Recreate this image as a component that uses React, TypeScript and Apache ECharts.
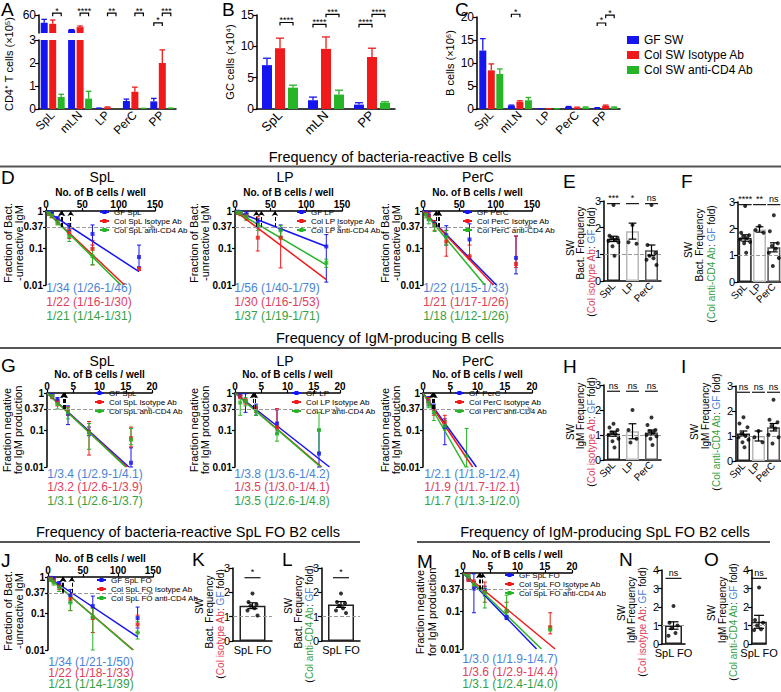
import React, { useEffect, useRef } from "react";
import * as echarts from "echarts";

const FONT = "'Liberation Sans', Arial, Helvetica, sans-serif";
const COLORS = ["#1515f0", "#f01a1a", "#26b526"];
const TEXT_COLORS = ["#4a84d4", "#e0405a", "#35a044"];

// ---------- A / B / C ----------
const catsFive = ["SpL", "mLN", "LP", "PerC", "PP"];
const catsThree = ["SpL", "mLN", "PP"];
const swGroups = ["GF SW", "Col SW Isotype Ab", "Col SW anti-CD4 Ab"];

const aMeanGF = [38.5, 18.3, 0.03, 0.35, 0.33];
const aErrGF = [9.5, 1.2, 0.01, 0.08, 0.13];
const aMeanIso = [35.5, 26.4, 0.07, 0.75, 2.0];
const aErrIso = [10.5, 3.0, 0.02, 0.2, 0.57];
const aMeanCD4 = [0.52, 0.45, 0.01, 0.02, 0.03];
const aErrCD4 = [0.12, 0.32, 0.0, 0.01, 0.01];
const aSig = [[0, 65, 1, 2], [1, 65, 1, 2], [2, 65, 1, 2], [3, 65, 1, 2], [4, 38, 0, 1], [4, 65, 1, 2]];
const aSigText = ["*", "****", "**", "**", "*", "***"];

const bMeanGF = [7.0, 1.4, 0.7];
const bErrGF = [1.1, 0.5, 0.3];
const bMeanIso = [9.7, 9.6, 8.3];
const bErrIso = [1.6, 1.9, 1.4];
const bMeanCD4 = [3.4, 2.3, 1.0];
const bErrCD4 = [0.4, 0.7, 0.15];
const bSig = [[0, 13.8, 1, 2], [1, 13.5, 0, 1], [1, 15.1, 1, 2], [2, 13.5, 0, 1], [2, 15.1, 1, 2]];
const bSigText = ["****", "****", "***", "****", "****"];

const cMeanGF = [12.7, 0.75, 0.05, 0.45, 0.2];
const cErrGF = [2.6, 0.1, 0.02, 0.1, 0.1];
const cMeanIso = [8.4, 1.6, 0.05, 0.3, 0.7];
const cErrIso = [1.4, 0.2, 0.02, 0.1, 0.15];
const cMeanCD4 = [7.6, 1.9, 0.05, 0.35, 0.35];
const cErrCD4 = [1.1, 0.6, 0.02, 0.1, 0.1];
const cSig = [[1, 20.6, 0, 1], [4, 18.7, 0, 1], [4, 20.4, 1, 2]];
const cSigText = ["*", "*", "*"];

// ---------- limiting dilution: [dose, fraction, low, high] ----------
const splNames = ["GF SpL", "Col SpL Isotype Ab", "Col SpL anti-CD4 Ab"];
const lpNames = ["GF LP", "Col LP Isotype Ab", "Col LP anti-CD4 Ab"];
const percNames = ["GF PerC", "Col PerC Isotype Ab", "Col PerC anti-CD4 Ab"];
const foNames = ["GF SpL FO", "Col SpL FO Isotype Ab", "Col SpL FO anti-CD4 Ab"];

const dSplGF = [[4, 0.93, 0.88, 0.98], [8, 0.86, 0.8, 0.92], [16, 0.62, 0.55, 0.7], [32, 0.38, 0.3, 0.46], [64, 0.24, 0.12, 0.42], [128, 0.057, 0.031, 0.12]];
const dSplIso = [[4, 0.84, 0.78, 0.9], [8, 0.74, 0.66, 0.82], [16, 0.52, 0.44, 0.6], [32, 0.25, 0.18, 0.32], [64, 0.094, 0.035, 0.16], [128, 0.027, 0.025, 0.03]];
const dSplCD4 = [[4, 0.86, 0.8, 0.92], [8, 0.75, 0.66, 0.84], [16, 0.5, 0.42, 0.58], [32, 0.21, 0.15, 0.28], [64, 0.06, 0.035, 0.1]];
const dSplFitGF = [[0, 1], [128, 0.023]];
const dSplFitIso = [[0, 1], [108, 0.01]];
const dSplFitCD4 = [[0, 1], [103, 0.01]];
const dSplFreq = [34, 22, 21];
const dSplText = ["1/34 (1/26-1/46)", "1/22 (1/16-1/30)", "1/21 (1/14-1/31)"];

const dLpGF = [[4, 0.96, 0.9, 1], [8, 0.92, 0.85, 1], [16, 0.82, 0.7, 0.95], [32, 0.5, 0.35, 0.62], [64, 0.32, 0.2, 0.42], [128, 0.11, 0.012, 0.23]];
const dLpIso = [[4, 0.9, 0.82, 0.98], [8, 0.85, 0.75, 0.95], [16, 0.72, 0.6, 0.85], [32, 0.19, 0.083, 0.7], [64, 0.19, 0.029, 0.35]];
const dLpCD4 = [[4, 0.92, 0.85, 1], [8, 0.88, 0.75, 1], [16, 0.7, 0.55, 0.85], [32, 0.42, 0.3, 0.55], [64, 0.3, 0.2, 0.4], [128, 0.04, 0.03, 0.05]];
const dLpFitGF = [[0, 1], [128, 0.11]];
const dLpFitIso = [[0, 1], [128, 0.014]];
const dLpFitCD4 = [[0, 1], [128, 0.035]];
const dLpFreq = [56, 30, 37];
const dLpText = ["1/56 (1/40-1/79)", "1/30 (1/16-1/53)", "1/37 (1/19-1/71)"];

const dPercGF = [[4, 0.9, 0.8, 1], [8, 0.75, 0.6, 0.95], [16, 0.45, 0.38, 0.55], [32, 0.22, 0.12, 0.4], [64, 0.17, 0.06, 0.45], [128, 0.054, 0.02, 0.21]];
const dPercIso = [[4, 0.85, 0.75, 0.95], [8, 0.7, 0.55, 0.9], [16, 0.42, 0.3, 0.55], [32, 0.15, 0.06, 0.3], [64, 0.06, 0.05, 0.12], [128, 0.037, 0.03, 0.21]];
const dPercCD4 = [[4, 0.8, 0.65, 0.95], [8, 0.6, 0.45, 0.8], [16, 0.4, 0.28, 0.5], [32, 0.2, 0.12, 0.3]];
const dPercFitGF = [[0, 1], [101, 0.01]];
const dPercFitIso = [[0, 1], [97, 0.01]];
const dPercFitCD4 = [[0, 1], [85, 0.01]];
const dPercFreq = [22, 21, 18];
const dPercText = ["1/22 (1/15-1/33)", "1/21 (1/17-1/26)", "1/18 (1/12-1/26)"];

const gSplGF = [[1, 0.88, 0.8, 0.95], [2, 0.65, 0.55, 0.75], [4, 0.28, 0.14, 0.45], [8, 0.09, 0.07, 0.12], [16, 0.013, 0.01, 0.033]];
const gSplIso = [[1, 0.8, 0.7, 0.9], [2, 0.55, 0.45, 0.65], [4, 0.33, 0.25, 0.42], [8, 0.09, 0.021, 0.17], [16, 0.06, 0.035, 0.12]];
const gSplCD4 = [[1, 0.82, 0.72, 0.92], [2, 0.5, 0.37, 0.6], [4, 0.3, 0.2, 0.4], [8, 0.085, 0.03, 0.15], [16, 0.055, 0.04, 0.11]];
const gSplFitGF = [[0, 1], [15.6, 0.01]];
const gSplFitIso = [[0, 1], [15.2, 0.01]];
const gSplFitCD4 = [[0, 1], [15.0, 0.01]];
const gSplFreq = [3.4, 3.2, 3.1];
const gSplText = ["1/3.4 (1/2.9-1/4.1)", "1/3.2 (1/2.6-1/3.9)", "1/3.1 (1/2.6-1/3.7)"];

const gLpGF = [[1, 0.85, 0.75, 0.95], [2, 0.6, 0.3, 0.95], [4, 0.38, 0.25, 0.5], [8, 0.15, 0.08, 0.35], [16, 0.023, 0.01, 0.1]];
const gLpIso = [[1, 0.8, 0.7, 0.9], [2, 0.6, 0.5, 0.7], [4, 0.38, 0.3, 0.45], [8, 0.12, 0.1, 0.38]];
const gLpCD4 = [[1, 0.55, 0.25, 0.85], [2, 0.6, 0.45, 0.75], [4, 0.33, 0.25, 0.45], [8, 0.08, 0.05, 0.12], [16, 0.1, 0.025, 0.3]];
const gLpFitGF = [[0, 1], [18, 0.01]];
const gLpFitIso = [[0, 1], [16.5, 0.01]];
const gLpFitCD4 = [[0, 1], [16.3, 0.01]];
const gLpFreq = [3.8, 3.5, 3.5];
const gLpText = ["1/3.8 (1/3.6-1/4.2)", "1/3.5 (1/3.0-1/4.1)", "1/3.5 (1/2.6-1/4.8)"];

const gPercGF = [[1, 0.6, 0.45, 0.8], [2, 0.38, 0.28, 0.5], [4, 0.12, 0.04, 0.2]];
const gPercIso = [[1, 0.62, 0.5, 0.75], [2, 0.36, 0.25, 0.45], [4, 0.16, 0.14, 0.25]];
const gPercCD4 = [[1, 0.55, 0.4, 0.7], [2, 0.3, 0.18, 0.45], [4, 0.13, 0.1, 0.18], [8, 0.02, 0.01, 0.11]];
const gPercFitGF = [[0, 1], [9.8, 0.01]];
const gPercFitIso = [[0, 1], [9.1, 0.01]];
const gPercFitCD4 = [[0, 1], [7.8, 0.01]];
const gPercFreq = [2.1, 1.9, 1.7];
const gPercText = ["1/2.1 (1/1.8-1/2.4)", "1/1.9 (1/1.7-1/2.1)", "1/1.7 (1/1.3-1/2.0)"];

const jGF = [[4, 0.95, 0.9, 1], [8, 0.9, 0.8, 1], [16, 0.65, 0.55, 0.75], [32, 0.32, 0.2, 0.45], [64, 0.16, 0.08, 0.3], [128, 0.075, 0.04, 0.15]];
const jIso = [[4, 0.9, 0.82, 0.98], [8, 0.8, 0.7, 0.9], [16, 0.55, 0.45, 0.65], [32, 0.25, 0.12, 0.35], [64, 0.075, 0.03, 0.14], [128, 0.05, 0.03, 0.09]];
const jCD4 = [[4, 0.85, 0.75, 0.95], [8, 0.72, 0.6, 0.88], [16, 0.52, 0.4, 0.62], [32, 0.2, 0.12, 0.3], [64, 0.08, 0.01, 0.14], [128, 0.03, 0.02, 0.06]];
const jFitGF = [[0, 1], [128, 0.023]];
const jFitIso = [[0, 1], [122, 0.01]];
const jFitCD4 = [[0, 1], [121, 0.01]];
const jFreq = [34, 22, 21];
const jText = ["1/34 (1/21-1/50)", "1/22 (1/18-1/33)", "1/21 (1/14-1/39)"];

const mGF = [[1, 0.75, 0.65, 0.9], [2, 0.39, 0.09, 0.95], [4, 0.35, 0.25, 0.45], [8, 0.07, 0.06, 0.09]];
const mIso = [[1, 0.7, 0.6, 0.95], [2, 0.55, 0.45, 0.65], [4, 0.32, 0.17, 0.58], [8, 0.1, 0.065, 0.17], [16, 0.037, 0.025, 0.09]];
const mCD4 = [[1, 0.8, 0.7, 0.9], [2, 0.5, 0.4, 0.6], [4, 0.3, 0.12, 0.4], [8, 0.1, 0.07, 0.26], [16, 0.033, 0.03, 0.04]];
const mFitGF = [[0, 1], [13.5, 0.01]];
const mFitIso = [[0, 1], [16.9, 0.01]];
const mFitCD4 = [[0, 1], [14.4, 0.01]];
const mFreq = [3.0, 3.6, 3.1];
const mText = ["1/3.0 (1/1.9-1/4.7)", "1/3.6 (1/2.9-1/4.4)", "1/3.1 (1/2.4-1/4.0)"];

// ---------- fold-change dot plots ----------
const catsTissue = ["SpL", "LP", "PerC"];
const catsFO = ["SpL FO"];

const eMean = [1.58, 1.87, 1.15];
const eSem = [0.1, 0.3, 0.2];
const eSpL = [2.85, 1.7, 1.62, 1.6, 1.55, 1.5, 1.45, 1.3, 0.95];
const eLP = [2.1, 1.45, 1.4];
const ePerC = [2.85, 1.35, 1.05, 0.95, 0.85, 0.8, 0.6];
const eSig = ["***", "*", "ns"];

const fMean = [1.65, 1.97, 1.3];
const fSem = [0.12, 0.1, 0.17];
const fSpL = [2.85, 1.85, 1.75, 1.7, 1.65, 1.6, 1.5, 1.45, 1.1];
const fLP = [2.1, 1.95, 1.85];
const fPerC = [2.5, 1.9, 1.45, 1.35, 1.25, 1.1, 0.9, 0.6];
const fSig = ["****", "**", "ns"];

const hMean = [1.05, 1.15, 1.1];
const hSem = [0.1, 0.3, 0.1];
const hSpL = [1.45, 1.3, 1.2, 1.1, 1.05, 1.0, 0.85, 0.75, 0.5];
const hLP = [2.0, 1.2, 0.85, 0.7];
const hPerC = [1.7, 1.4, 1.2, 1.15, 1.1, 1.0, 0.95, 0.85, 0.6];
const hSig = ["ns", "ns", "ns"];

const iMean = [1.1, 1.0, 1.35];
const iSem = [0.1, 0.2, 0.15];
const iSpL = [1.75, 1.5, 1.35, 1.1, 1.0, 0.95, 0.85, 0.75, 0.55];
const iLP = [1.2, 0.95, 0.75];
const iPerC = [2.45, 1.65, 1.55, 1.4, 1.3, 1.05, 0.95, 0.7];
const iSig = ["ns", "ns", "ns"];

const kMean = [1.45];
const kSem = [0.12];
const kPts = [1.95, 1.6, 1.5, 1.45, 1.35, 1.25, 1.05];
const lMean = [1.5];
const lSem = [0.12];
const lPts = [1.95, 1.6, 1.55, 1.45, 1.35, 1.25, 1.15];
const nMean = [1.0];
const nSem = [0.2];
const nPts = [2.05, 1.15, 1.0, 0.85, 0.6, 0.45];
const oMean = [1.2];
const oSem = [0.35];
const oPts = [3.05, 1.3, 1.15, 1.0, 0.8, 0.75];

// ---------- helpers ----------
const JIT = [0, -4, 4, -2, 2, -5, 5, -1, 1, -3, 3];
const axisLine = { show: true, onZero: false, lineStyle: { color: "#000", width: 1.5 } };
const tick = (len: number) => ({ show: true, length: len, lineStyle: { color: "#000", width: 1.2 } });
const lab = (size: number, extra: any = {}) => ({ color: "#000", fontSize: size, fontFamily: FONT, ...extra });
const ln = (x1: number, y1: number, x2: number, y2: number, color: string, w = 1.2) => ({
  type: "line", shape: { x1, y1, x2, y2 }, style: { stroke: color, lineWidth: w },
});
const textStyle = (text: string, size: number, align: string, valign: string, extra: any = {}) => ({
  text, fontSize: size, fontFamily: FONT, fill: "#000", align, verticalAlign: valign,
  textAlign: align, textVerticalAlign: valign, ...extra,
});

function buildOption() {
  const grids: any[] = [];
  const xAxes: any[] = [];
  const yAxes: any[] = [];
  const series: any[] = [];
  const graphics: any[] = [];
  const legends: any[] = [];

  const addGrid = (rect: any, xa: any, ya: any) => {
    const gi = grids.length;
    grids.push({ ...rect, containLabel: false });
    xAxes.push({ gridIndex: gi, ...xa });
    yAxes.push({ gridIndex: gi, ...ya });
    return gi;
  };
  const gText = (x: number, y: number, text: string, size: number, align = "left", valign = "top", extra: any = {}) =>
    graphics.push({ type: "text", x, y, silent: true, style: textStyle(text, size, align, valign, extra) });
  const vText = (x: number, y: number, text: string, size: number, rich?: any) =>
    graphics.push({ type: "text", x, y, rotation: Math.PI / 2, silent: true, style: textStyle(text, size, "center", "middle", rich ? { rich } : {}) });
  const hLine = (x1: number, x2: number, y: number) =>
    graphics.push({ type: "line", silent: true, shape: { x1, y1: y, x2, y2: y }, style: { stroke: "#555", lineWidth: 2 } });

  // ---------- bar panels ----------
  function barPanel(o: any) {
    const gi = addGrid(
      o.rect,
      { type: "category", data: o.cats, show: o.showX, axisLine, axisTick: { show: false }, axisLabel: { ...lab(o.catSize), rotate: 45, margin: 4, interval: 0 } },
      {
        type: "value", min: o.min, max: o.max, interval: o.interval, axisLine,
        axisTick: { ...tick(4), customValues: o.ticks }, axisLabel: { ...lab(12), margin: 3, customValues: o.ticks },
        splitLine: { show: false },
      }
    );
    const n = o.groups.length;
    const step = o.barW + o.gap;
    o.groups.forEach((g: any, k: number) => {
      series.push({
        type: "bar", name: swGroups[k], xAxisIndex: gi, yAxisIndex: gi, barWidth: o.barW,
        barGap: (o.gap / o.barW) * 100 + "%", silent: true, itemStyle: { color: COLORS[k] },
        data: g.mean.map((v: number) => (o.barKeep(v) ? v : "-")),
      });
      const ed: any[] = [];
      g.mean.forEach((v: number, i: number) => { if (o.errKeep(v) && g.err[i] > 0) ed.push([i, v, g.err[i]]); });
      series.push({
        type: "custom", xAxisIndex: gi, yAxisIndex: gi, silent: true, z: 3, data: ed,
        renderItem: (p: any, api: any) => {
          const base = api.coord([api.value(0), api.value(1)]);
          const top = api.coord([api.value(0), api.value(1) + api.value(2)]);
          const x = base[0] + (k - (n - 1) / 2) * step;
          const cw = o.barW * 0.4;
          return { type: "group", children: [ln(x, base[1], x, top[1], COLORS[k], 1.3), ln(x - cw, top[1], x + cw, top[1], COLORS[k], 1.3)] };
        },
      });
    });
    if (o.sig) {
      series.push({
        type: "custom", xAxisIndex: gi, yAxisIndex: gi, silent: true, z: 5, data: o.sig.map((s: number[]) => [s[0], s[1]]),
        renderItem: (p: any, api: any) => {
          const s = o.sig[p.dataIndex];
          const c = api.coord([s[0], s[1]]);
          const x1 = c[0] + (s[2] - (n - 1) / 2) * step;
          const x2 = c[0] + (s[3] - (n - 1) / 2) * step;
          return {
            type: "group", children: [
              { type: "polyline", shape: { points: [[x1, c[1] + 3], [x1, c[1]], [x2, c[1]], [x2, c[1] + 3]] }, style: { stroke: "#000", fill: null, lineWidth: 1.2 } },
              { type: "text", x: (x1 + x2) / 2, y: c[1] + 2, style: textStyle(o.sigText[p.dataIndex], 9, "center", "bottom") },
            ],
          };
        },
      });
    }
    return gi;
  }

  // ---------- LDA panels ----------
  function ldaPanel(o: any) {
    const gi = addGrid(
      { left: o.left, top: o.top, width: o.width, height: o.height },
      {
        type: "value", position: "top", min: 0, max: o.xMax, interval: o.xInterval,
        name: "No. of B cells / well", nameLocation: "middle", nameGap: 14,
        nameTextStyle: lab(10, { fontWeight: "bold" }), axisLine, axisTick: tick(3),
        axisLabel: lab(10, { fontWeight: "bold", margin: 2 }), splitLine: { show: false },
      },
      {
        type: "log", logBase: 10, min: 0.01, max: 1, axisLine,
        axisTick: { ...tick(3), customValues: [0.01, 0.1, 0.37, 1] },
        axisLabel: {
          ...lab(10, { fontWeight: "bold", margin: 3 }), customValues: [0.01, 0.1, 0.37, 1],
          formatter: (v: number) => (Math.abs(v - 0.37) < 0.01 ? "0.37" : String(+Number(v).toPrecision(2))),
        },
        splitLine: { show: false },
      }
    );
    o.names.forEach((nm: string, k: number) => {
      const col = COLORS[k];
      const mlData: any[] = [[{ coord: [o.freq[k], 0.37], symbol: "none" }, { coord: [o.freq[k], 1], symbol: "arrow" }]];
      if (k === 0) mlData.push({ yAxis: 0.37, symbol: "none", lineStyle: { color: "#999", type: "dashed", width: 1 } });
      series.push({
        type: "line", name: nm, xAxisIndex: gi, yAxisIndex: gi, data: o.fits[k], showSymbol: false,
        symbol: "rect", symbolSize: 4, lineStyle: { color: col, width: 1.5 }, itemStyle: { color: col }, z: 3,
        markLine: {
          silent: true, symbolSize: 5, label: { show: false },
          lineStyle: { color: "#000", type: "dashed", width: 1 }, data: mlData,
        },
      });
      series.push({
        type: "scatter", xAxisIndex: gi, yAxisIndex: gi, silent: true, z: 4, symbol: "rect", symbolSize: 4,
        itemStyle: { color: col }, data: o.pts[k].map((d: number[]) => [d[0], d[1]]),
      });
      series.push({
        type: "custom", xAxisIndex: gi, yAxisIndex: gi, silent: true, z: 2, data: o.pts[k],
        renderItem: (p: any, api: any) => {
          const lo = api.coord([api.value(0), api.value(2)]);
          const hi = api.coord([api.value(0), api.value(3)]);
          const x = lo[0];
          return { type: "group", children: [ln(x, lo[1], x, hi[1], col, 1), ln(x - 2, lo[1], x + 2, lo[1], col, 1), ln(x - 2, hi[1], x + 2, hi[1], col, 1)] };
        },
      });
      gText(o.freqX, o.freqY[k], o.texts[k], 12, "center", "middle", { fill: TEXT_COLORS[k] });
    });
    legends.push({
      left: o.legendLeft, top: o.legendTop, orient: "vertical", padding: 0, itemGap: 1, itemWidth: 9, itemHeight: 5,
      textStyle: { fontSize: 8, fontFamily: FONT, color: "#000" }, data: o.names, selectedMode: false,
    });
    if (o.title) gText(o.titleX, o.titleY, o.title, 14, "center", "middle");
    vText(o.yTitleX[0], o.yTitleY, o.yTitle[0], 11);
    vText(o.yTitleX[1], o.yTitleY, o.yTitle[1], 11);
  }

  // ---------- dot panels ----------
  function dotPanel(o: any) {
    const gi = addGrid(
      o.rect,
      { type: "category", data: o.cats, axisLine, axisTick: { show: false }, axisLabel: { ...lab(o.catSize), rotate: o.rotate, margin: 3, interval: 0 } },
      { type: "value", min: 0, max: o.max, interval: 1, axisLine, axisTick: tick(4), axisLabel: { ...lab(11), margin: 3 }, splitLine: { show: false } }
    );
    series.push({
      type: "bar", xAxisIndex: gi, yAxisIndex: gi, barWidth: o.barW, silent: true, z: 1,
      data: o.means.map((m: number, i: number) => ({ value: m, itemStyle: { color: "#fff", borderColor: o.edges[i], borderWidth: 1.5 } })),
      markLine: { silent: true, symbol: "none", label: { show: false }, lineStyle: { color: "#999", type: "dashed", width: 1 }, data: [{ yAxis: 1 }] },
    });
    series.push({
      type: "scatter", xAxisIndex: gi, yAxisIndex: gi, silent: true, z: 5, symbolSize: 4, itemStyle: { color: "#000" },
      data: o.pts.flatMap((arr: number[], i: number) => arr.map((v, k) => ({ value: [i, v], symbolOffset: [JIT[k % JIT.length], 0] }))),
    });
    series.push({
      type: "custom", xAxisIndex: gi, yAxisIndex: gi, silent: true, z: 4,
      data: o.means.map((m: number, i: number) => [i, m, o.sems[i]]),
      renderItem: (p: any, api: any) => {
        const a = api.coord([api.value(0), api.value(1) - api.value(2)]);
        const b = api.coord([api.value(0), api.value(1) + api.value(2)]);
        const x = a[0];
        const w = Math.min(o.barW * 0.3, 5);
        return { type: "group", children: [ln(x, a[1], x, b[1], "#000", 1.2), ln(x - w, a[1], x + w, a[1], "#000", 1.2), ln(x - w, b[1], x + w, b[1], "#000", 1.2)] };
      },
    });
    series.push({
      type: "custom", xAxisIndex: gi, yAxisIndex: gi, silent: true, z: 5,
      data: o.sig.map((s: string, i: number) => [i, o.sigY]),
      renderItem: (p: any, api: any) => {
        const c = api.coord([api.value(0), api.value(1)]);
        const hw = Math.min(o.barW * 0.5, 8);
        return {
          type: "group", children: [
            ln(c[0] - hw, c[1], c[0] + hw, c[1], "#000", 1.1),
            { type: "text", x: c[0], y: c[1] - 1, style: textStyle(o.sig[p.dataIndex], 9, "center", "bottom") },
          ],
        };
      },
    });
    gText(o.letter[1], o.letter[2], o.letter[0], 19);
    o.titles.forEach((t: any, i: number) => vText(o.titleX[i], o.titleY[i], t, 10, i === 2 ? o.rich : undefined));
  }

  const richIso = "{k|(}{r|Col isotype Ab}{k|: }{b|GF}{k| fold)}";
  const richCD4 = "{k|(}{g|Col anti-CD4 Ab}{k|: }{b|GF}{k| fold)}";
  const richStyles = {
    k: { fontSize: 10, fontFamily: FONT, fill: "#000", color: "#000" },
    r: { fontSize: 10, fontFamily: FONT, fill: TEXT_COLORS[1], color: TEXT_COLORS[1] },
    g: { fontSize: 10, fontFamily: FONT, fill: TEXT_COLORS[2], color: TEXT_COLORS[2] },
    b: { fontSize: 10, fontFamily: FONT, fill: TEXT_COLORS[0], color: TEXT_COLORS[0] },
  };

  // ---- A ----
  const aGroups = [{ mean: aMeanGF, err: aErrGF }, { mean: aMeanIso, err: aErrIso }, { mean: aMeanCD4, err: aErrCD4 }];
  barPanel({
    rect: { left: 39, top: 15, width: 137, height: 18 }, cats: catsFive, showX: false, catSize: 12,
    min: 10, max: 60, ticks: [30, 60], groups: aGroups, barW: 7, gap: 1.5,
    barKeep: (v: number) => v > 10, errKeep: (v: number) => v > 10, sig: aSig, sigText: aSigText,
  });
  barPanel({
    rect: { left: 39, top: 40, width: 137, height: 69 }, cats: catsFive, showX: true, catSize: 12,
    min: 0, max: 3, interval: 1, groups: aGroups, barW: 7, gap: 1.5,
    barKeep: () => true, errKeep: (v: number) => v < 3,
  });
  gText(1, 0, "A", 19);
  vText(9, 64, "CD4⁺ T cells (×10⁵)", 11);

  // ---- B ----
  barPanel({
    rect: { left: 257, top: 15, width: 138, height: 94 }, cats: catsThree, showX: true, catSize: 13,
    min: 0, max: 15, interval: 5,
    groups: [{ mean: bMeanGF, err: bErrGF }, { mean: bMeanIso, err: bErrIso }, { mean: bMeanCD4, err: bErrCD4 }],
    barW: 10, gap: 3, barKeep: () => true, errKeep: () => true, sig: bSig, sigText: bSigText,
  });
  gText(222, 0, "B", 19);
  vText(230, 62, "GC cells (×10⁴)", 11);

  // ---- C ----
  barPanel({
    rect: { left: 477, top: 17, width: 143, height: 92 }, cats: catsFive, showX: true, catSize: 12,
    min: 0, max: 20, interval: 5,
    groups: [{ mean: cMeanGF, err: cErrGF }, { mean: cMeanIso, err: cErrIso }, { mean: cMeanCD4, err: cErrCD4 }],
    barW: 7, gap: 1.5, barKeep: () => true, errKeep: () => true, sig: cSig, sigText: cSigText,
  });
  gText(455, 0, "C", 19);
  vText(450, 63, "B cells (×10⁶)", 11);

  legends.push({
    left: 627, top: 34, orient: "vertical", padding: 0, itemGap: 3, itemWidth: 12, itemHeight: 8, icon: "rect",
    textStyle: { fontSize: 12, fontFamily: FONT, color: "#000" }, data: swGroups, selectedMode: false,
  });

  // ---- section 1 ----
  gText(390, 157, "Frequency of bacteria-reactive B cells", 14.5, "center", "middle");
  hLine(0, 781, 166.5);
  gText(1, 168, "D", 19);
  const freqRows1 = [288, 302, 316];
  ldaPanel({
    left: 46, top: 211, width: 109, height: 74, xMax: 150, xInterval: 50, names: splNames,
    pts: [dSplGF, dSplIso, dSplCD4], fits: [dSplFitGF, dSplFitIso, dSplFitCD4], freq: dSplFreq, texts: dSplText,
    freqX: 89, freqY: freqRows1, legendLeft: 99, legendTop: 208, title: "SpL", titleX: 102, titleY: 177,
    yTitle: ["Fraction of Bact.", "-unreactive IgM"], yTitleX: [8, 19], yTitleY: 243,
  });
  ldaPanel({
    left: 235, top: 211, width: 107, height: 74, xMax: 150, xInterval: 50, names: lpNames,
    pts: [dLpGF, dLpIso, dLpCD4], fits: [dLpFitGF, dLpFitIso, dLpFitCD4], freq: dLpFreq, texts: dLpText,
    freqX: 277, freqY: freqRows1, legendLeft: 296, legendTop: 208, title: "LP", titleX: 285, titleY: 177,
    yTitle: ["Fraction of Bact.", "-unreactive IgM"], yTitleX: [194, 205], yTitleY: 243,
  });
  ldaPanel({
    left: 423, top: 211, width: 109, height: 74, xMax: 150, xInterval: 50, names: percNames,
    pts: [dPercGF, dPercIso, dPercCD4], fits: [dPercFitGF, dPercFitIso, dPercFitCD4], freq: dPercFreq, texts: dPercText,
    freqX: 466, freqY: freqRows1, legendLeft: 462, legendTop: 208, title: "PerC", titleX: 478, titleY: 177,
    yTitle: ["Fraction of Bact.", "-unreactive IgM"], yTitleX: [385, 396], yTitleY: 243,
  });
  dotPanel({
    rect: { left: 604, top: 201, width: 57, height: 80 }, cats: catsTissue, catSize: 10, rotate: 45, max: 3,
    means: eMean, sems: eSem, pts: [eSpL, eLP, ePerC], sig: eSig, sigY: 2.9, barW: 13, edges: ["#222", "#b8b8b8", "#555"],
    letter: ["E", 563, 172], titles: ["SW", "Bact. Frequency", richIso], rich: richStyles, titleX: [570, 580, 591], titleY: [248, 243, 262],
  });
  dotPanel({
    rect: { left: 738, top: 202, width: 57, height: 80 }, cats: catsTissue, catSize: 10, rotate: 45, max: 3,
    means: fMean, sems: fSem, pts: [fSpL, fLP, fPerC], sig: fSig, sigY: 2.9, barW: 13, edges: ["#222", "#b8b8b8", "#555"],
    letter: ["F", 681, 172], titles: ["SW", "Bact. Frequency", richCD4], rich: richStyles, titleX: [688, 699, 711], titleY: [250, 245, 264],
  });

  // ---- section 2 ----
  gText(390, 338, "Frequency of IgM-producing B cells", 14.5, "center", "middle");
  hLine(0, 781, 348);
  gText(1, 356, "G", 19);
  const freqRows2 = [473.5, 487, 500.5];
  ldaPanel({
    left: 47, top: 393, width: 105, height: 74, xMax: 20, xInterval: 5, names: splNames,
    pts: [gSplGF, gSplIso, gSplCD4], fits: [gSplFitGF, gSplFitIso, gSplFitCD4], freq: gSplFreq, texts: gSplText,
    freqX: 95, freqY: freqRows2, legendLeft: 94, legendTop: 389, title: "SpL", titleX: 102, titleY: 361,
    yTitle: ["Fraction negative", "for IgM production"], yTitleX: [7, 18], yTitleY: 430,
  });
  ldaPanel({
    left: 235, top: 393, width: 105, height: 74, xMax: 20, xInterval: 5, names: lpNames,
    pts: [gLpGF, gLpIso, gLpCD4], fits: [gLpFitGF, gLpFitIso, gLpFitCD4], freq: gLpFreq, texts: gLpText,
    freqX: 282, freqY: freqRows2, legendLeft: 291, legendTop: 389, title: "LP", titleX: 285, titleY: 361,
    yTitle: ["Fraction negative", "for IgM production"], yTitleX: [194, 205], yTitleY: 430,
  });
  ldaPanel({
    left: 423, top: 393, width: 109, height: 74, xMax: 20, xInterval: 5, names: percNames,
    pts: [gPercGF, gPercIso, gPercCD4], fits: [gPercFitGF, gPercFitIso, gPercFitCD4], freq: gPercFreq, texts: gPercText,
    freqX: 472, freqY: freqRows2, legendLeft: 454, legendTop: 389, title: "PerC", titleX: 478, titleY: 361,
    yTitle: ["Fraction negative", "for IgM production"], yTitleX: [385, 396], yTitleY: 430,
  });
  dotPanel({
    rect: { left: 604, top: 385, width: 57, height: 75 }, cats: catsTissue, catSize: 10, rotate: 45, max: 3,
    means: hMean, sems: hSem, pts: [hSpL, hLP, hPerC], sig: hSig, sigY: 2.75, barW: 13, edges: ["#222", "#b8b8b8", "#555"],
    letter: ["H", 563, 357], titles: ["SW", "IgM Frequency", richIso], rich: richStyles, titleX: [570, 580, 591], titleY: [432, 416, 432],
  });
  dotPanel({
    rect: { left: 736, top: 386, width: 57, height: 75 }, cats: catsTissue, catSize: 10, rotate: 45, max: 3,
    means: iMean, sems: iSem, pts: [iSpL, iLP, iPerC], sig: iSig, sigY: 2.75, barW: 13, edges: ["#222", "#b8b8b8", "#555"],
    letter: ["I", 681, 357], titles: ["SW", "IgM Frequency", richCD4], rich: richStyles, titleX: [694, 705, 716], titleY: [432, 416, 432],
  });

  // ---- section 3 ----
  gText(188, 532, "Frequency of bacteria-reactive SpL FO B2 cells", 14.5, "center", "middle");
  hLine(0, 360, 542);
  gText(1, 551, "J", 19);
  ldaPanel({
    left: 48, top: 577, width: 105, height: 73, xMax: 150, xInterval: 50, names: foNames,
    pts: [jGF, jIso, jCD4], fits: [jFitGF, jFitIso, jFitCD4], freq: jFreq, texts: jText,
    freqX: 91, freqY: [661.5, 672.5, 683.5], legendLeft: 96, legendTop: 576,
    yTitle: ["Fraction of Bact.", "-unreactive IgM"], yTitleX: [8, 19], yTitleY: 611,
  });
  dotPanel({
    rect: { left: 233, top: 568, width: 39, height: 73 }, cats: catsFO, catSize: 11, rotate: 0, max: 3,
    means: kMean, sems: kSem, pts: [kPts], sig: ["*"], sigY: 2.6, barW: 26, edges: ["#222"],
    letter: ["K", 192, 550], titles: ["SW", "Bact. Frequency", richIso], rich: richStyles, titleX: [199, 209, 220], titleY: [606, 612, 624],
  });
  dotPanel({
    rect: { left: 322, top: 568, width: 38, height: 73 }, cats: catsFO, catSize: 11, rotate: 0, max: 3,
    means: lMean, sems: lSem, pts: [lPts], sig: ["*"], sigY: 2.6, barW: 26, edges: ["#222"],
    letter: ["L", 282, 550], titles: ["SW", "Bact. Frequency", richCD4], rich: richStyles, titleX: [288, 298, 309], titleY: [606, 612, 624],
  });

  // ---- section 4 ----
  gText(605, 532, "Frequency of IgM-producing SpL FO B2 cells", 14.5, "center", "middle");
  hLine(417, 770, 542);
  gText(417, 552, "M", 19);
  ldaPanel({
    left: 463, top: 573, width: 109, height: 76, xMax: 20, xInterval: 5, names: foNames,
    pts: [mGF, mIso, mCD4], fits: [mFitGF, mFitIso, mFitCD4], freq: mFreq, texts: mText,
    freqX: 510, freqY: [659, 671.5, 684], legendLeft: 504, legendTop: 571,
    yTitle: ["Fraction negative", "for IgM production"], yTitleX: [420, 432], yTitleY: 612,
  });
  dotPanel({
    rect: { left: 662, top: 570, width: 23, height: 74 }, cats: catsFO, catSize: 11, rotate: 0, max: 4,
    means: nMean, sems: nSem, pts: [nPts], sig: ["ns"], sigY: 3.55, barW: 17, edges: ["#222"],
    letter: ["N", 619, 550], titles: ["SW", "IgM Frequency", richIso], rich: richStyles, titleX: [621, 631, 642], titleY: [613, 610, 622],
  });
  dotPanel({
    rect: { left: 752, top: 570, width: 22, height: 74 }, cats: catsFO, catSize: 11, rotate: 0, max: 4,
    means: oMean, sems: oSem, pts: [oPts], sig: ["ns"], sigY: 3.55, barW: 17, edges: ["#222"],
    letter: ["O", 704, 550], titles: ["SW", "IgM Frequency", richCD4], rich: richStyles, titleX: [711, 722, 733], titleY: [613, 610, 622],
  });

  return {
    animation: false,
    textStyle: { fontFamily: FONT },
    grid: grids,
    xAxis: xAxes,
    yAxis: yAxes,
    legend: legends,
    series,
    graphic: { elements: graphics },
  };
}

export default function App() {
  const ref = useRef<HTMLDivElement>(null);
  useEffect(() => {
    document.body.style.margin = "0";
    const chart = echarts.init(ref.current as HTMLDivElement, null, { renderer: "svg" });
    chart.setOption(buildOption() as any);
    return () => chart.dispose();
  }, []);
  return <div ref={ref} style={{ width: 781, height: 692, background: "#fff" }} />;
}
